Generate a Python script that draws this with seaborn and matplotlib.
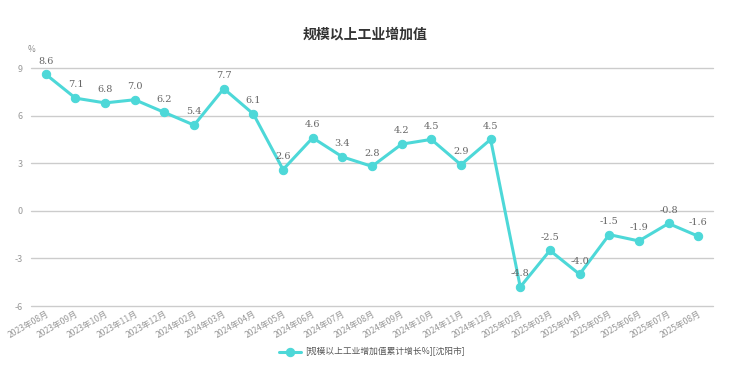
import matplotlib
matplotlib.use("Agg")
import matplotlib.pyplot as plt
import seaborn as sns
import pandas as pd

months = ["2023年08月", "2023年09月", "2023年10月", "2023年11月", "2023年12月",
          "2024年02月", "2024年03月", "2024年04月", "2024年05月", "2024年06月",
          "2024年07月", "2024年08月", "2024年09月", "2024年10月", "2024年11月",
          "2024年12月", "2025年02月", "2025年03月", "2025年04月", "2025年05月",
          "2025年06月", "2025年07月", "2025年08月"]
values = [8.6, 7.1, 6.8, 7.0, 6.2, 5.4, 7.7, 6.1, 2.6, 4.6, 3.4, 2.8, 4.2, 4.5,
          2.9, 4.5, -4.8, -2.5, -4.0, -1.5, -1.9, -0.8, -1.6]
yticks = [-6, -3, 0, 3, 6, 9]
series_name = "[规模以上工业增加值累计增长%][沈阳市]"
title = "规模以上工业增加值"

sns.set_theme(style="white")
plt.rcParams['font.family'] = ['Noto Sans CJK SC', 'DejaVu Sans']

color = "#4dd8d8"
df = pd.DataFrame({"x": range(len(months)), "v": values})

fig = plt.figure(figsize=(7.31, 3.70), dpi=100)
ax = fig.add_axes([31/731, (370-306)/370, (713-31)/731, (306-68)/370])

sns.lineplot(data=df, x="x", y="v", ax=ax, color=color, linewidth=2.2,
             marker="o", markersize=6, markeredgecolor=color, label=series_name,
             zorder=3)

for i, v in enumerate(values):
    ax.text(i, v + 0.55, f"{v:.1f}", ha="center", va="bottom", fontsize=7,
            color="#666666", family="DejaVu Serif")

ax.set_xlim(-0.5, len(months) - 0.5)
ax.set_ylim(-6, 9)
ax.set_yticks(yticks)
ax.set_yticklabels([str(t) for t in yticks], fontsize=6.5, color="#999999")
ax.set_xticks(range(len(months)))
ax.set_xticklabels(months, rotation=30, ha="right", rotation_mode="anchor",
                   fontsize=6.2, color="#999999")
ax.tick_params(axis="x", length=0, pad=2)
ax.tick_params(axis="y", length=0, pad=6)
for t in yticks:
    ax.axhline(t, color="#cccccc", linewidth=1, zorder=1, clip_on=False)
for s in ax.spines.values():
    s.set_visible(False)
ax.set_xlabel("")
ax.set_ylabel("")

fig.text(365/731, 1 - 35/370, title, ha="center", va="center", fontsize=10,
         color="#333333", fontweight="bold")
fig.text(31/731, 1 - 49/370, "%", ha="center", va="center", fontsize=6,
         color="#888888")

leg = ax.legend(loc="center", bbox_to_anchor=(0.5, -46/238), frameon=False,
                fontsize=6.3, handlelength=2.5, handletextpad=0.4,
                bbox_transform=ax.transAxes)
for t in leg.get_texts():
    t.set_color("#555555")

fig.savefig("out.png", dpi=100)
